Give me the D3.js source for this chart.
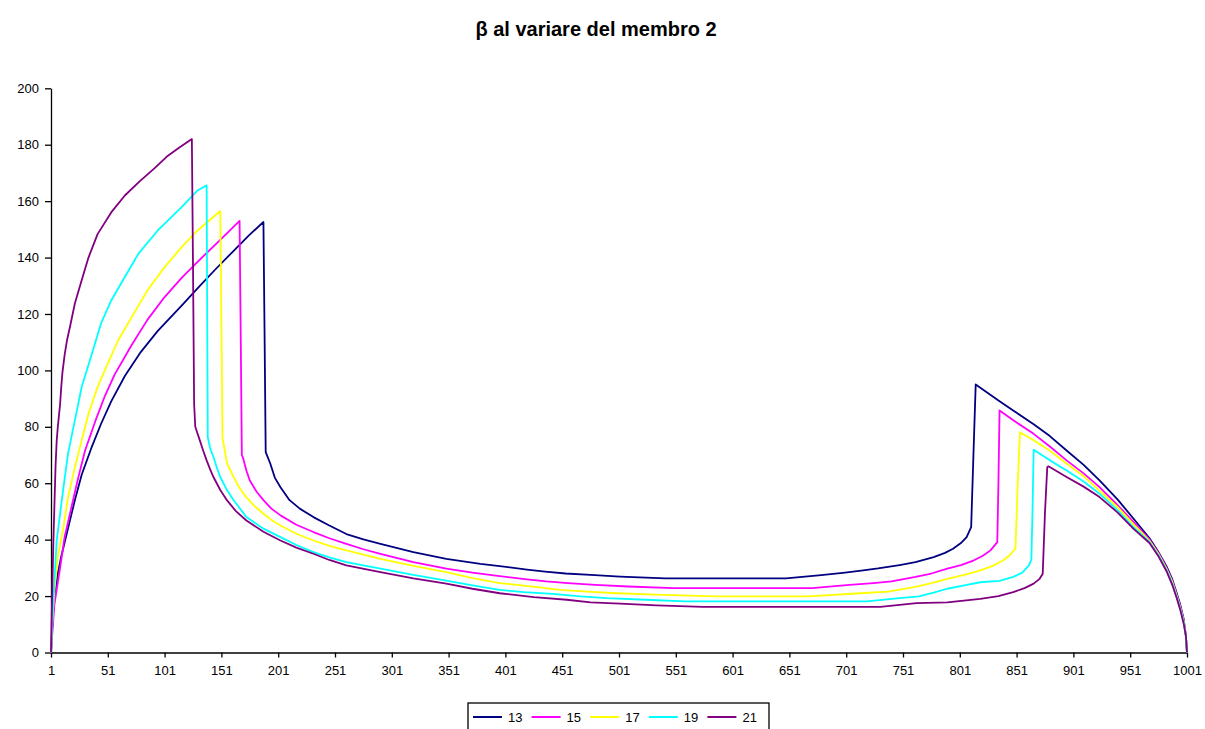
<!DOCTYPE html>
<html>
<head>
<meta charset="utf-8">
<script src="https://cdn.jsdelivr.net/npm/d3@7"></script>
<style>
  body { margin: 0; background: #fff; }
  text { font-family: "Liberation Sans", Arial, sans-serif; fill: #000; }
</style>
</head>
<body>
<div id="chart"></div>
<script>
// chart text
var title = 'β al variare del membro 2';
var seriesNames = ['13', '15', '17', '19', '21'];
var seriesColors = ['#000080', '#ff00ff', '#ffff00', '#00ffff', '#800080'];

// axis ticks
var xTickValues = [1, 51, 101, 151, 201, 251, 301, 351, 401, 451, 501,
    551, 601, 651, 701, 751, 801, 851, 901, 951, 1001];
var yTickValues = [0, 20, 40, 60, 80, 100, 120, 140, 160, 180, 200];

// [index, beta]
var beta13 = [[1, 0], [2, 8], [3, 15], [5, 22], [7, 28], [10, 34], [13, 39],
    [16, 44], [22, 54], [28, 63], [37, 73], [45, 81], [54, 89], [66, 98],
    [80, 106.5], [95, 114], [116, 123], [131, 129.5], [145, 135.5],
    [162, 142.5], [175, 147.8], [188, 152.6], [189, 113], [190, 71],
    [194, 67], [198, 62], [203, 58.6], [211, 54], [220, 51], [232, 48],
    [246, 45], [261, 42], [276, 40.1], [291, 38.5], [320, 35.6], [349, 33.2],
    [379, 31.4], [396, 30.6], [420, 29.4], [436, 28.7], [454, 28], [476, 27.5],
    [502, 26.9], [542, 26.3], [648, 26.3], [679, 27.4], [700, 28.3],
    [716, 29.1], [729, 29.8], [748, 31], [762, 32], [778, 33.8], [788, 35.3],
    [795, 36.8], [802, 38.8], [807, 40.9], [811, 44.4], [813, 70], [815, 95],
    [836, 89.1], [848, 85.8], [866, 80.9], [880, 76.8], [895, 71.6],
    [910, 66.5], [924, 61], [940, 54.2], [954, 47.4], [968, 40.5],
    [976, 35.5], [983, 30.5], [988, 26], [992, 21], [995, 17], [998, 12],
    [1000, 6], [1001, 0]];

var beta15 = [[1, 0], [2, 6], [4, 17], [9, 30], [13, 41], [19, 51.5],
    [25, 62], [31, 71.6], [40, 82], [48, 90.5], [57, 98.5], [72, 109],
    [86, 118], [101, 126], [116, 132.8], [130, 138.5], [150, 146.3],
    [167, 153], [168, 113], [169, 70], [170, 69], [173, 64.5], [176, 61],
    [182, 57], [188, 54], [195, 51], [203, 48.6], [217, 45.3], [232, 42.7],
    [246, 40.5], [261, 38.5], [276, 36.6], [291, 35], [320, 32], [349, 29.7],
    [372, 28.3], [396, 27.1], [420, 25.9], [437, 25.2], [456, 24.6],
    [480, 24], [509, 23.4], [549, 22.8], [671, 22.8], [704, 24], [725, 24.6],
    [741, 25.2], [762, 26.8], [776, 28], [790, 29.7], [802, 31], [813, 32.6],
    [821, 34.2], [828, 36.2], [834, 39.1], [835, 60], [836, 85.8],
    [850, 81.8], [866, 77.5], [880, 73.1], [895, 68.1], [910, 63.5],
    [924, 58.6], [940, 52.2], [954, 46.2], [968, 40], [976, 35.2], [983, 30],
    [988, 25.5], [992, 20.5], [995, 16.5], [998, 11.6], [1000, 6],
    [1001, 0]];

var beta17 = [[1, 0], [2, 10], [4, 22], [7, 34], [12, 44.4], [16, 55],
    [22, 65.7], [28, 75.2], [34, 84.6], [42, 94.1], [51, 102.4], [60, 110.6],
    [72, 118.9], [86, 128.4], [101, 136.6], [116, 143.7], [130, 149.6],
    [150, 156.5], [151, 117], [152, 76], [156, 67], [162, 62], [167, 58.3],
    [173, 55], [180, 52], [188, 49.2], [195, 47], [203, 45], [217, 42.1],
    [232, 39.7], [246, 37.8], [261, 36.2], [291, 33.2], [320, 30.7],
    [349, 28.5], [372, 26.4], [396, 24.6], [411, 24], [429, 23.2],
    [449, 22.2], [473, 21.6], [499, 21], [533, 20.5], [586, 19.9],
    [668, 19.9], [713, 21], [738, 21.6], [762, 23.3], [776, 24.6],
    [790, 26.1], [805, 27.5], [819, 29.1], [830, 30.7], [839, 32.6],
    [845, 34.5], [850, 36.8], [852, 60], [854, 78.1], [867, 75], [880, 71.6],
    [895, 67], [910, 62.5], [924, 57.4], [940, 51.5], [954, 45.4],
    [968, 39.6], [976, 34.8], [983, 29.6], [988, 25], [992, 20], [995, 16],
    [998, 11.2], [1000, 6], [1001, 0]];

var beta19 = [[1, 0], [2, 10], [4, 25.5], [6, 39.7], [9, 49.2], [12, 58.6],
    [16, 70.5], [22, 82.3], [28, 94.1], [37, 105.9], [45, 116.6],
    [54, 124.8], [66, 133.1], [78, 141.4], [95, 149.6], [116, 157.9],
    [130, 163.8], [138, 165.6], [139, 76.4], [141, 72.5], [144, 69.3],
    [147, 65.5], [150, 62.2], [156, 57.5], [162, 53.9], [173, 48], [188, 43.9],
    [203, 40.9], [217, 38.1], [232, 35.6], [246, 33.7], [261, 32], [291, 29.7],
    [320, 27.5], [349, 25.5], [372, 23.8], [396, 22.2], [417, 21.4],
    [443, 20.8], [467, 19.9], [490, 19.3], [525, 18.7], [559, 18.1],
    [719, 18.1], [748, 19.3], [765, 19.9], [778, 21.2], [790, 22.6],
    [805, 23.8], [819, 24.9], [836, 25.4], [848, 26.8], [856, 28.3],
    [862, 31], [864, 33], [865, 50], [866, 71.9], [880, 68.2], [895, 64.5],
    [910, 60.6], [924, 56.3], [940, 50.4], [954, 44.4], [968, 39.2],
    [976, 34.4], [983, 29.2], [988, 24.5], [992, 19.6], [995, 15.6],
    [998, 10.8], [1000, 6], [1001, 0]];

var beta21 = [[1, 0], [2, 20], [3, 38], [4, 52], [5, 66], [6, 75], [7, 80],
    [9, 88], [10, 94], [11, 99], [13, 105.5], [15, 110.5], [18, 116],
    [22, 123.7], [28, 132], [34, 140], [42, 148.3], [54, 156], [66, 162],
    [79, 167], [92, 171.6], [103, 175.8], [114, 179], [125, 182], [126, 137],
    [127, 88], [128, 80], [132, 75.2], [135, 71.5], [138, 68.1], [141, 65],
    [144, 62.2], [150, 57.6], [156, 53.9], [164, 50], [173, 46.8], [188, 42.8],
    [203, 39.7], [217, 37.2], [232, 35], [246, 32.8], [261, 30.9],
    [291, 28.5], [320, 26.3], [349, 24.4], [372, 22.6], [396, 21],
    [426, 19.6], [455, 18.7], [476, 17.8], [502, 17.3], [534, 16.7],
    [575, 16.2], [731, 16.2], [763, 17.5], [790, 17.8], [819, 19],
    [835, 20], [848, 21.4], [858, 22.8], [866, 24.4], [871, 26], [874, 27.9],
    [876, 49.8], [878, 65.7], [879, 66], [895, 62.2], [910, 58.8],
    [924, 55.1], [940, 49.6], [954, 43.8], [968, 38.8], [976, 34],
    [983, 28.8], [988, 24], [992, 19.2], [995, 15.2], [998, 10.4], [1000, 6],
    [1001, 0]];

var seriesData = [beta13, beta15, beta17, beta19, beta21];

var width = 1205, height = 729;

var svg = d3.select('#chart').append('svg')
    .attr('width', width)
    .attr('height', height);

var x = d3.scaleLinear().domain([1, 1001]).range([51, 1187]);
var y = d3.scaleLinear().domain([0, 200]).range([652.5, 88.3]);

// title
svg.append('text')
    .attr('x', 596)
    .attr('y', 36)
    .attr('text-anchor', 'middle')
    .style('font-size', '20px')
    .style('font-weight', 'bold')
    .text(title);

// axes
var xAxis = svg.append('g')
    .attr('transform', 'translate(0,' + y(0) + ')')
    .call(d3.axisBottom(x).tickValues(xTickValues).tickSize(5)
        .tickSizeOuter(0).tickFormat(d3.format('d')));

var yAxis = svg.append('g')
    .attr('transform', 'translate(' + x(1) + ',0)')
    .call(d3.axisLeft(y).tickValues(yTickValues).tickSize(6)
        .tickSizeOuter(0));

[xAxis, yAxis].forEach(function(g) {
  g.selectAll('path, line').attr('stroke', '#000').attr('stroke-width', 1.3);
  g.selectAll('text')
      .style('font-size', '13px')
      .style('font-family', '"Liberation Sans", Arial, sans-serif')
      .attr('fill', '#000');
});
xAxis.selectAll('text').attr('dy', '1em').attr('y', 9);
yAxis.selectAll('text').attr('x', -12);

// series lines, 21 drawn last so it sits on top
var line = d3.line()
    .x(function(d) { return x(d[0]); })
    .y(function(d) { return y(d[1]); });

svg.selectAll('path.series').data(seriesData)
  .enter().append('path')
    .attr('class', 'series')
    .attr('d', line)
    .attr('fill', 'none')
    .attr('stroke', function(d, i) { return seriesColors[i]; })
    .attr('stroke-width', 1.8)
    .attr('stroke-linejoin', 'round');

// legend (bottom edge runs off the picture, as in the original)
var legend = svg.append('g').attr('transform', 'translate(468,703)');
legend.append('rect')
    .attr('width', 301)
    .attr('height', 40)
    .attr('fill', '#fff')
    .attr('stroke', '#000')
    .attr('stroke-width', 1.3);

var item = legend.selectAll('g.item').data(seriesNames)
  .enter().append('g')
    .attr('class', 'item')
    .attr('transform', function(d, i) {
      return 'translate(' + (5 + i * 58.6) + ',14)';
    });
item.append('line')
    .attr('x1', 0).attr('x2', 29)
    .attr('stroke', function(d, i) { return seriesColors[i]; })
    .attr('stroke-width', 2);
item.append('text')
    .attr('x', 35)
    .attr('dy', '0.36em')
    .style('font-size', '13px')
    .text(function(d) { return d; });
</script>
</body>
</html>
